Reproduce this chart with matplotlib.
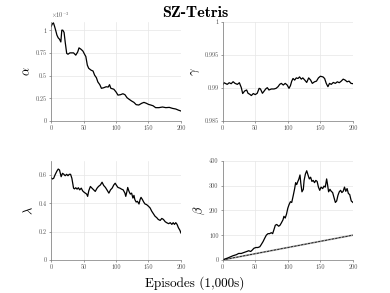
import numpy as np
import matplotlib
matplotlib.use("Agg")
import matplotlib.pyplot as plt

# % data (episodes in 1,000s)

alpha_x = [0, 2, 3.6, 5, 7, 9, 11, 13, 15, 16.5, 18, 20, 21.7, 24, 26, 29, 34.6, 38, 41, 43,
           46, 49, 51.5, 53.5, 55.8, 57.9, 61.5, 64.6, 67, 69.8, 72, 75, 77.5, 81, 84.8, 88,
           90, 92, 96.6, 100, 103, 107, 110.6, 113.7, 117, 120, 124, 127.6, 131, 135, 139.5,
           143, 146.7, 150, 153.5, 157, 161, 166, 171.6, 176.7, 182, 187, 192, 196, 200]
alpha_y = [1.04, 1.07, 1.08, 1.05, 1.0, 0.945, 0.915, 0.90, 0.87, 1.0, 1.0, 0.975, 0.87, 0.745,
           0.735, 0.75, 0.75, 0.725, 0.76, 0.805, 0.79, 0.77, 0.735, 0.71, 0.615, 0.58, 0.56,
           0.55, 0.505, 0.476, 0.43, 0.40, 0.36, 0.366, 0.377, 0.374, 0.40, 0.36, 0.35, 0.32,
           0.285, 0.29, 0.30, 0.29, 0.256, 0.24, 0.22, 0.205, 0.18, 0.176, 0.195, 0.205, 0.195,
           0.183, 0.176, 0.168, 0.147, 0.147, 0.154, 0.147, 0.15, 0.139, 0.132, 0.12, 0.11]

gamma_x = [0, 2, 4, 7, 10, 13, 16, 19, 22.5, 25.6, 28.6, 30.7, 33.8, 36.8, 38.9, 41.4, 44, 47,
           50, 53, 56, 58, 61, 63, 66, 68.5, 71, 74.7, 78.8, 82, 85, 87.5, 90, 93, 96, 99,
           101.8, 104, 106, 108, 110.5, 113, 115.6, 118, 120.7, 123, 126, 129, 132, 135,
           137.6, 141, 144, 147, 150, 154, 156.5, 159, 161.6, 164, 166.7, 169.8, 173, 176,
           179, 182, 185, 188, 191, 194, 197, 200]
gamma_y = [0.99045, 0.9908, 0.9907, 0.99055, 0.9908, 0.99065, 0.99095, 0.9907, 0.99055,
           0.9908, 0.99005, 0.98916, 0.98955, 0.9897, 0.9892, 0.98906, 0.98886, 0.98916,
           0.989, 0.9892, 0.98995, 0.98985, 0.9892, 0.98945, 0.98985, 0.99005, 0.9897,
           0.98985, 0.98985, 0.98995, 0.9902, 0.99055, 0.9907, 0.99045, 0.9907, 0.99045,
           0.98995, 0.99035, 0.99104, 0.99144, 0.9912, 0.99153, 0.99144, 0.99168, 0.99134,
           0.99153, 0.9912, 0.99084, 0.99153, 0.9912, 0.9907, 0.99094, 0.99104, 0.99153,
           0.99178, 0.99168, 0.99144, 0.9907, 0.9902, 0.9907, 0.99055, 0.99084, 0.9907,
           0.99094, 0.9908, 0.99104, 0.99134, 0.9912, 0.99094, 0.99104, 0.9907, 0.99065]

lambda_x = [0, 2, 4, 6, 9, 11, 13, 15.5, 17.6, 19.6, 21.7, 24, 26, 28, 30, 32, 34.6, 36, 38,
            40, 42, 44, 46.5, 48.6, 50.6, 52.7, 54.8, 56.3, 58, 60.5, 63, 65.6, 68, 70.8, 73,
            76, 78.5, 81, 83.7, 86, 89, 91.5, 94, 96.6, 98.7, 100.8, 103, 106, 108.5, 111,
            113.7, 115, 116.8, 118, 120, 122, 124, 126, 127.6, 129, 131, 133, 135.4, 137,
            138.5, 140.7, 142.6, 144.7, 147, 150, 152.5, 155, 157.6, 160, 162.8, 165, 168,
            170.5, 173, 175.7, 178, 181, 183.5, 186, 188, 190, 192, 194, 196, 198.4, 200]
lambda_y = [0.58, 0.572, 0.577, 0.60, 0.628, 0.642, 0.635, 0.588, 0.612, 0.605, 0.595, 0.605,
            0.595, 0.605, 0.605, 0.577, 0.507, 0.502, 0.51, 0.50, 0.51, 0.495, 0.507, 0.488,
            0.479, 0.472, 0.465, 0.449, 0.488, 0.519, 0.507, 0.495, 0.484, 0.507, 0.519, 0.53,
            0.549, 0.526, 0.512, 0.495, 0.472, 0.495, 0.507, 0.53, 0.542, 0.526, 0.512, 0.507,
            0.50, 0.495, 0.472, 0.449, 0.484, 0.512, 0.484, 0.465, 0.472, 0.437, 0.456, 0.426,
            0.409, 0.414, 0.395, 0.426, 0.442, 0.426, 0.409, 0.395, 0.391, 0.379, 0.367, 0.344,
            0.326, 0.309, 0.298, 0.286, 0.279, 0.293, 0.286, 0.27, 0.263, 0.256, 0.263, 0.251,
            0.263, 0.251, 0.263, 0.251, 0.228, 0.209, 0.19]

beta_x = [0, 8, 16, 21, 24.5, 28.6, 32.7, 36, 40, 43, 45.5, 48, 51, 54, 57, 59, 62, 64.4, 67,
          69.6, 72, 74.7, 76.7, 78.8, 80.8, 83, 86, 88, 90, 92.6, 94, 96, 98, 100, 102, 104,
          106, 108.4, 110.5, 112, 113.6, 115, 117, 118.7, 120, 121.7, 123.8, 125, 127, 129,
          131, 133, 135, 137, 139, 141, 143, 145, 147, 149, 151, 153.5, 155.5, 157.5, 159.6,
          161, 162.6, 164.7, 166.7, 168.8, 171, 173, 175, 177, 179, 181, 183, 185, 187, 189,
          191, 193, 195, 197.4, 200]
beta_y = [0, 8, 17, 21, 26, 26, 30, 33, 37, 34, 40, 47, 50, 50, 53, 61, 74, 87, 100, 106, 106,
          110, 106, 123, 140, 143, 136, 140, 149, 162, 176, 169, 185, 209, 224, 235, 232, 261,
          288, 312, 304, 314, 327, 343, 308, 275, 285, 321, 347, 360, 343, 327, 334, 317, 321,
          312, 321, 317, 294, 281, 294, 288, 298, 294, 327, 304, 275, 285, 277, 272, 251, 232,
          238, 261, 275, 281, 272, 277, 294, 277, 288, 268, 264, 238, 232]

ref_x = [0, 200]
ref_y = [0, 100]

# %% figure

plt.rcParams["mathtext.fontset"] = "cm"
plt.rcParams["font.family"] = ["cmr10", "DejaVu Serif"]
plt.rcParams["axes.formatter.use_mathtext"] = True

fig = plt.figure(figsize=(3.9, 2.93), dpi=100)

pos = {"a": [0.131, 0.587, 0.333, 0.338],
       "g": [0.571, 0.587, 0.334, 0.338],
       "l": [0.131, 0.113, 0.333, 0.338],
       "b": [0.571, 0.113, 0.334, 0.338]}


def style(ax, ylabel, yticks, yticklabels, ylim):
    ax.set_xlim(0, 200)
    ax.set_ylim(*ylim)
    ax.set_xticks([0, 50, 100, 150, 200])
    ax.set_xticklabels(["0", "50", "100", "150", "200"])
    ax.set_yticks(yticks)
    ax.set_yticklabels(yticklabels)
    ax.tick_params(labelsize=4.5, length=1.5, width=0.4, colors="#555555", pad=1.5)
    for s in ["top", "right"]:
        ax.spines[s].set_visible(False)
    for s in ["left", "bottom"]:
        ax.spines[s].set_linewidth(0.5)
        ax.spines[s].set_color("#777777")
    ax.grid(True, color="#e6e6e6", linewidth=0.5)
    ax.set_axisbelow(True)
    ax.set_ylabel(ylabel, fontsize=9, labelpad=1.5)


ax = fig.add_axes(pos["a"])
ax.plot(alpha_x, alpha_y, color="k", lw=0.9)
style(ax, r"$\alpha$", [0, 0.25, 0.5, 0.75, 1], ["0", "0.25", "0.5", "0.75", "1"], (0, 1.09))
ax.text(0.0, 1.02, r"$\times 10^{-3}$", transform=ax.transAxes, fontsize=4.5,
        color="#555555", ha="left", va="bottom")

ax = fig.add_axes(pos["g"])
ax.plot(gamma_x, gamma_y, color="k", lw=0.9)
style(ax, r"$\gamma$", [0.985, 0.99, 0.995, 1.0], ["0.985", "0.99", "0.995", "1"], (0.985, 1.0))

ax = fig.add_axes(pos["l"])
ax.plot(lambda_x, lambda_y, color="k", lw=0.9)
style(ax, r"$\lambda$", [0, 0.2, 0.4, 0.6], ["0", "0.2", "0.4", "0.6"], (0, 0.7))

ax = fig.add_axes(pos["b"])
ax.plot(ref_x, ref_y, color="#999999", lw=1.2)
ax.plot(ref_x, ref_y, color="k", lw=0.5, ls=(0, (3, 2)))
ax.plot(beta_x, beta_y, color="k", lw=0.9)
style(ax, r"$\beta$", [0, 100, 200, 300, 400], ["0", "100", "200", "300", "400"], (0, 400))

fig.text(0.5, 0.98, "SZ-Tetris", fontsize=11.5, fontfamily="cmb10", ha="center", va="top")
fig.text(0.5, 0.035, "Episodes (1,000s)", fontsize=9.5, ha="center", va="center")

fig.savefig("out.png", dpi=100)
